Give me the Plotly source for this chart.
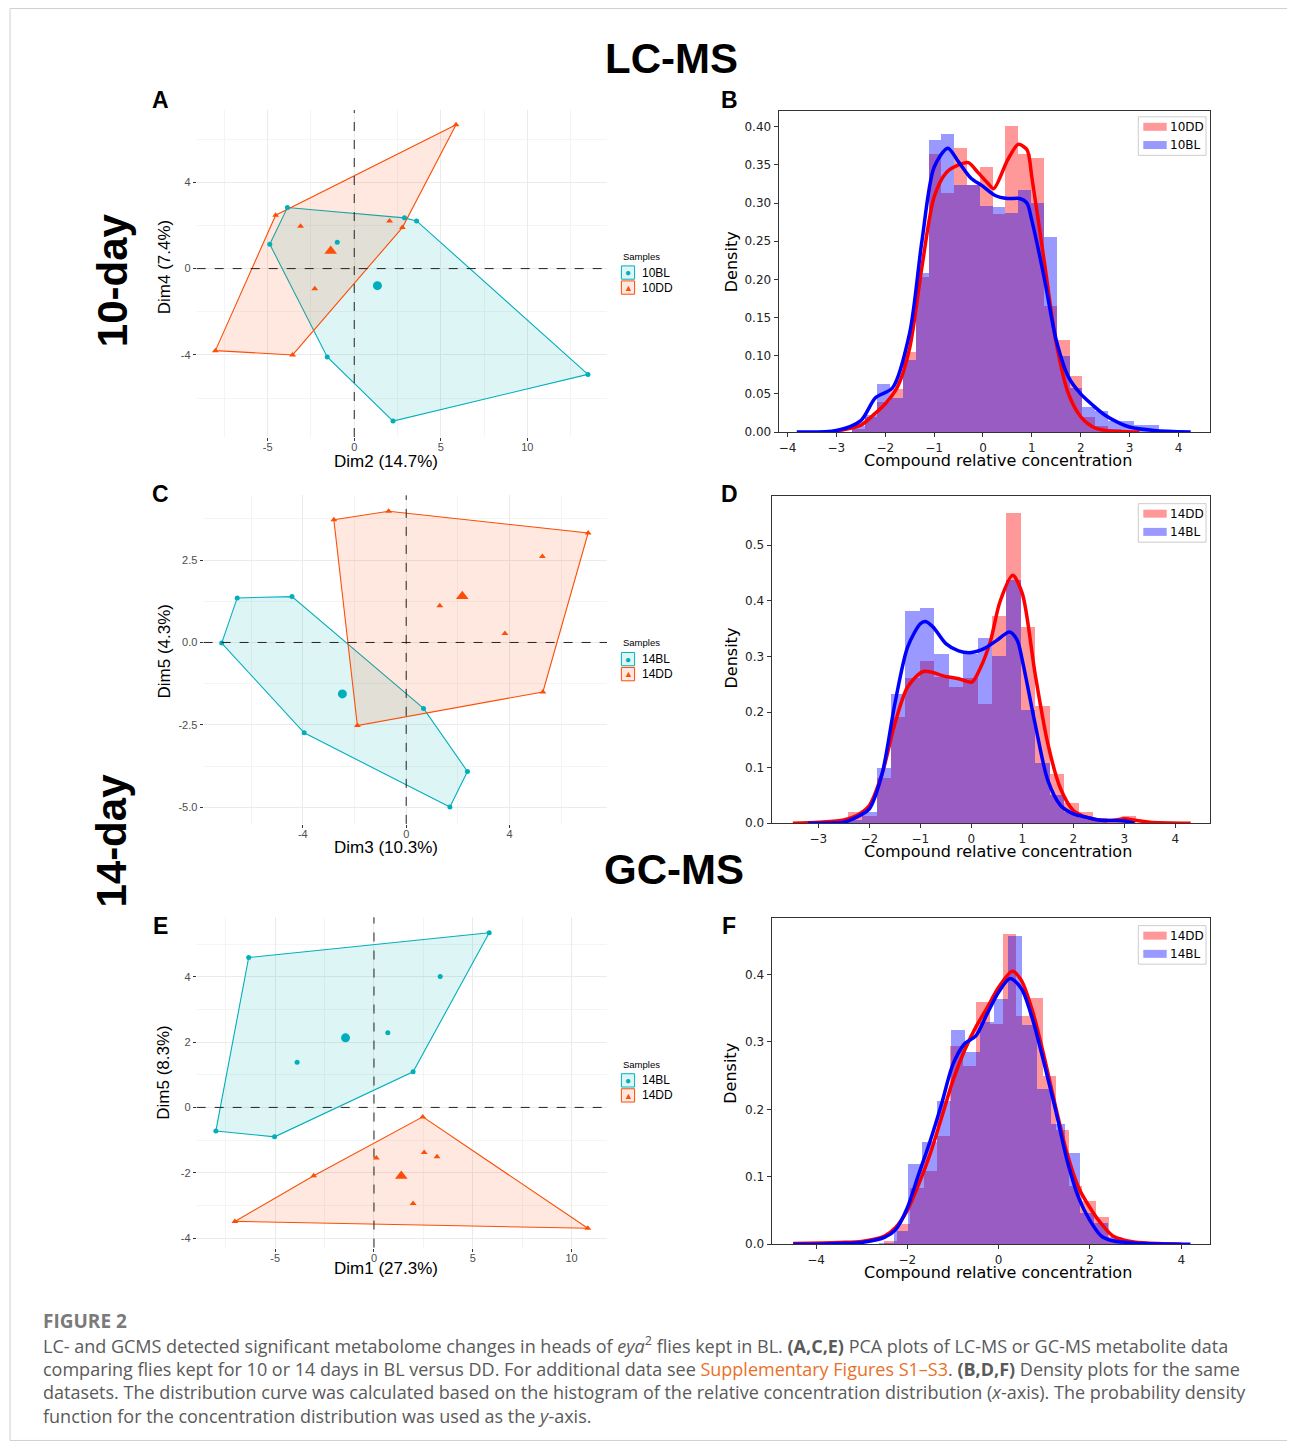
import plotly.graph_objects as go

# the page adds an 8px body margin; the capture compresses the page height slightly,
# so reference pixel rows are mapped through S
OX, OY = 8, 8
FW, FH = 1287, 1440
S = 0.9945
CYAN = "#00AFBB"
ORANGE = "#FC4E07"
SANS = "Liberation Sans, Arial, sans-serif"
DEJAVU = "DejaVu Sans, sans-serif"
CAP = "Open Sans, sans-serif"

# ---------------- PCA data (individual scores) ----------------
# Panel A : 10-day LC-MS, Dim2 vs Dim4
A_BL_x = [-3.86, 2.90, 3.60, 13.50, 2.24, -1.56, -4.88, -0.98]
A_BL_y = [2.83, 2.35, 2.21, -4.90, -7.06, -4.09, 1.13, 1.22]
A_DD_x = [5.88, 2.78, -3.56, -8.02, -4.54, -3.10, 2.04, -2.28]
A_DD_y = [6.66, 1.90, -4.00, -3.80, 2.47, 1.96, 2.21, -0.93]
A_BL_mean = [1.34, -0.79]
A_DD_mean = [-1.36, 0.82]

# Panel C : 14-day LC-MS, Dim3 vs Dim5
C_BL_x = [-6.54, -4.42, 0.67, 2.37, 1.69, -3.95, -7.14]
C_BL_y = [1.35, 1.39, -2.00, -3.91, -4.99, -2.74, -0.02]
C_DD_x = [-2.80, -0.68, 7.04, 5.29, -1.89, 5.27, 1.30, 3.82]
C_DD_y = [3.72, 3.98, 3.32, -1.50, -2.52, 2.61, 1.11, 0.27]
C_BL_mean = [-2.47, -1.56]
C_DD_mean = [2.17, 1.40]

# Panel E : 14-day GC-MS, Dim1 vs Dim5
E_BL_x = [-6.34, 5.83, 1.98, -5.03, -8.00, 3.35, 0.70, -3.89]
E_BL_y = [4.59, 5.35, 1.09, -0.90, -0.72, 4.01, 2.29, 1.38]
E_DD_x = [2.47, 10.82, -7.04, -3.05, 0.12, 2.54, 3.19, 1.98]
E_DD_y = [-0.29, -3.70, -3.49, -2.09, -1.55, -1.38, -1.51, -2.94]
E_BL_mean = [-1.44, 2.13]
E_DD_mean = [1.38, -2.10]

# ---------------- Density data ----------------
# Panel B (10DD red, 10BL blue)
B_bin_centers = [-2.559, -2.297, -2.035, -1.773, -1.511, -1.249, -0.987, -0.725, -0.463, -0.201,
                 0.061, 0.323, 0.585, 0.847, 1.109, 1.371, 1.633, 1.895, 2.157, 2.419, 2.681, 2.943,
                 3.205, 3.467]
B_bin_width = 0.262
B_hist_DD = [0.004, 0.020, 0.040, 0.057, 0.105, 0.203, 0.365, 0.313, 0.372, 0.324, 0.348, 0.286,
             0.401, 0.365, 0.359, 0.165, 0.121, 0.074, 0.020, 0.008, 0.004, 0.0, 0.0, 0.0]
B_hist_BL = [0.008, 0.022, 0.063, 0.045, 0.095, 0.209, 0.383, 0.391, 0.324, 0.324, 0.296, 0.295,
             0.287, 0.317, 0.300, 0.256, 0.100, 0.058, 0.033, 0.028, 0.015, 0.015, 0.009, 0.009]
B_kde_DD_x = [-3.1, -2.5, -2.25, -2.0, -1.75, -1.5, -1.25, -1.0, -0.75, -0.5, -0.3, -0.1, 0.1, 0.22,
              0.5, 0.72, 0.9, 1.0, 1.25, 1.5, 1.75, 2.0, 2.25, 2.5, 3.2]
B_kde_DD_y = [0.0, 0.009, 0.022, 0.037, 0.059, 0.110, 0.216, 0.308, 0.340, 0.350, 0.353, 0.340, 0.326,
              0.319, 0.356, 0.377, 0.370, 0.334, 0.225, 0.116, 0.050, 0.020, 0.0065, 0.002, 0.0]
B_kde_BL_x = [-3.81, -3.0, -2.5, -2.2, -1.85, -1.5, -1.25, -1.0, -0.72, -0.5, -0.25, 0.0, 0.25, 0.5,
              0.75, 0.9, 1.0, 1.25, 1.5, 1.75, 2.0, 2.25, 2.5, 2.75, 3.0, 3.5, 4.25]
B_kde_BL_y = [0.0, 0.002, 0.015, 0.045, 0.058, 0.130, 0.250, 0.347, 0.372, 0.354, 0.333, 0.322, 0.310,
              0.306, 0.306, 0.300, 0.277, 0.203, 0.120, 0.072, 0.050, 0.035, 0.022, 0.013, 0.0065, 0.002, 0.0]

# Panel D (14DD red, 14BL blue) LC-MS
D_bin_centers = [-2.573, -2.290, -2.007, -1.724, -1.441, -1.158, -0.875, -0.592, -0.309, -0.026, 0.257,
                 0.540, 0.823, 1.106, 1.389, 1.672, 1.955, 2.238, 2.521, 2.804, 3.087, 3.370]
D_bin_width = 0.283
D_hist_DD = [0.004, 0.020, 0.012, 0.081, 0.190, 0.261, 0.292, 0.263, 0.245, 0.261, 0.213,
             0.373, 0.558, 0.352, 0.210, 0.088, 0.035, 0.020, 0.008, 0.004, 0.012, 0.0]
D_hist_BL = [0.0, 0.005, 0.020, 0.099, 0.231, 0.381, 0.386, 0.303, 0.260, 0.303, 0.333,
             0.300, 0.437, 0.203, 0.107, 0.050, 0.020, 0.008, 0.003, 0.0, 0.0, 0.0]
D_kde_DD_x = [-3.5, -3.0, -2.5, -2.25, -2.0, -1.75, -1.5, -1.25, -0.94, -0.5, -0.25, 0.01, 0.17, 0.37,
              0.56, 0.81, 1.0, 1.25, 1.5, 1.75, 2.0, 2.25, 2.5, 2.75, 3.0, 3.25, 3.5, 4.3]
D_kde_DD_y = [0.0, 0.002, 0.006, 0.014, 0.032, 0.089, 0.179, 0.245, 0.273, 0.264, 0.260, 0.254, 0.278,
              0.326, 0.398, 0.446, 0.413, 0.269, 0.143, 0.062, 0.023, 0.011, 0.006, 0.005, 0.008, 0.005,
              0.002, 0.0]
D_kde_BL_x = [-3.2, -2.5, -2.25, -2.0, -1.75, -1.5, -1.25, -1.0, -0.9, -0.75, -0.5, -0.25, 0.0, 0.25,
              0.5, 0.75, 0.9, 1.0, 1.25, 1.5, 1.75, 2.0, 2.25, 2.5, 3.0, 3.2]
D_kde_BL_y = [0.0, 0.002, 0.011, 0.026, 0.089, 0.215, 0.317, 0.359, 0.363, 0.353, 0.323, 0.310, 0.307,
              0.314, 0.329, 0.344, 0.329, 0.293, 0.179, 0.077, 0.032, 0.017, 0.011, 0.006, 0.004, 0.0]

# Panel F (14DD red, 14BL blue) GC-MS
F_bin_centers_DD = [-2.377, -2.087, -1.797, -1.507, -1.217, -0.927, -0.637, -0.347, -0.057, 0.233,
                    0.523, 0.813, 1.103, 1.393, 1.683, 1.973, 2.263, 2.553]
F_bin_width_DD = 0.29
F_hist_DD = [0.005, 0.030, 0.084, 0.109, 0.160, 0.294, 0.265, 0.359, 0.327, 0.460, 0.339, 0.365,
             0.249, 0.170, 0.087, 0.064, 0.040, 0.005]
F_bin_centers_BL = [-2.460, -2.147, -1.834, -1.521, -1.208, -0.895, -0.582, -0.269, 0.044, 0.357,
                    0.670, 0.983, 1.296, 1.609, 1.922, 2.235, 2.548]
F_bin_width_BL = 0.313
F_hist_BL = [0.002, 0.020, 0.119, 0.151, 0.212, 0.318, 0.285, 0.330, 0.364, 0.457, 0.325, 0.230,
             0.178, 0.135, 0.047, 0.032, 0.010]
F_kde_DD_x = [-4.5, -3.5, -3.0, -2.5, -2.25, -2.0, -1.75, -1.5, -1.25, -1.0, -0.75, -0.5, -0.25, 0.0,
              0.3, 0.5, 0.75, 1.0, 1.25, 1.5, 1.75, 2.0, 2.25, 2.5, 2.75, 3.0, 3.5, 4.0]
F_kde_DD_y = [0.001, 0.0025, 0.004, 0.012, 0.025, 0.050, 0.089, 0.134, 0.188, 0.243, 0.287, 0.322,
              0.351, 0.381, 0.405, 0.391, 0.344, 0.277, 0.203, 0.134, 0.084, 0.054, 0.030, 0.012,
              0.006, 0.003, 0.001, 0.0]
F_kde_BL_x = [-4.5, -4.0, -3.5, -3.0, -2.5, -2.25, -2.0, -1.75, -1.5, -1.25, -1.0, -0.75, -0.5, -0.25,
              0.0, 0.25, 0.5, 0.75, 1.0, 1.25, 1.5, 1.75, 2.0, 2.25, 2.5, 3.0, 4.2]
F_kde_BL_y = [0.0, 0.0, 0.001, 0.0025, 0.010, 0.022, 0.054, 0.104, 0.153, 0.208, 0.267, 0.297, 0.309,
              0.342, 0.374, 0.394, 0.379, 0.332, 0.267, 0.198, 0.124, 0.069, 0.035, 0.012, 0.005,
              0.0015, 0.0]


# ---------------- helpers ----------------
def px(x):
    return (x - OX) / FW


def py(y):
    return 1 - (y / S - OY) / FH


def rgba(hexcol, a):
    h = hexcol.lstrip("#")
    return "rgba(%d,%d,%d,%s)" % (int(h[0:2], 16), int(h[2:4], 16), int(h[4:6], 16), a)


def hull(xs, ys):
    pts = sorted(set(zip(xs, ys)))

    def cross(o, a, b):
        return (a[0] - o[0]) * (b[1] - o[1]) - (a[1] - o[1]) * (b[0] - o[0])

    lower, upper = [], []
    for p in pts:
        while len(lower) >= 2 and cross(lower[-2], lower[-1], p) <= 0:
            lower.pop()
        lower.append(p)
    for p in reversed(pts):
        while len(upper) >= 2 and cross(upper[-2], upper[-1], p) <= 0:
            upper.pop()
        upper.append(p)
    h = lower[:-1] + upper[:-1]
    h.append(h[0])
    return [p[0] for p in h], [p[1] for p in h]


fig = go.Figure()


def axnames(n):
    return ("x" if n == 1 else "x%d" % n), ("y" if n == 1 else "y%d" % n)


def add_pca(n, blx, bly, ddx, ddy, blm, ddm):
    xa, ya = axnames(n)
    for xs, ys, col in [(blx, bly, CYAN), (ddx, ddy, ORANGE)]:
        hx, hy = hull(xs, ys)
        fig.add_trace(go.Scatter(x=hx, y=hy, mode="lines", fill="toself",
                                 fillcolor=rgba(col, 0.13), line=dict(color=col, width=1.1),
                                 xaxis=xa, yaxis=ya, hoverinfo="skip", showlegend=False))
    for xs, ys, col, sym, m in [(blx, bly, CYAN, "circle", blm), (ddx, ddy, ORANGE, "triangle-up", ddm)]:
        fig.add_trace(go.Scatter(x=xs, y=ys, mode="markers",
                                 marker=dict(symbol=sym, size=5 if sym == "circle" else 6, color=col,
                                             line=dict(width=0)),
                                 xaxis=xa, yaxis=ya, showlegend=False))
        fig.add_trace(go.Scatter(x=[m[0]], y=[m[1]], mode="markers",
                                 marker=dict(symbol=sym, size=9 if sym == "circle" else 11, color=col,
                                             line=dict(width=0)),
                                 xaxis=xa, yaxis=ya, showlegend=False))


def add_density(n, cdd, wdd, hdd, cbl, wbl, hbl, kddx, kddy, kblx, kbly):
    xa, ya = axnames(n)
    fig.add_trace(go.Bar(x=cdd, y=hdd, width=wdd, marker=dict(color="rgba(255,0,0,0.4)", line=dict(width=0)),
                         xaxis=xa, yaxis=ya, showlegend=False))
    fig.add_trace(go.Bar(x=cbl, y=hbl, width=wbl, marker=dict(color="rgba(0,0,255,0.4)", line=dict(width=0)),
                         xaxis=xa, yaxis=ya, showlegend=False))
    fig.add_trace(go.Scatter(x=kddx, y=kddy, mode="lines", line=dict(color="#FF0000", width=3.5, shape="spline",
                                                                   smoothing=0.8),
                             xaxis=xa, yaxis=ya, showlegend=False))
    fig.add_trace(go.Scatter(x=kblx, y=kbly, mode="lines", line=dict(color="#0000FF", width=3.5, shape="spline",
                                                                   smoothing=0.8),
                             xaxis=xa, yaxis=ya, showlegend=False))


add_pca(1, A_BL_x, A_BL_y, A_DD_x, A_DD_y, A_BL_mean, A_DD_mean)
add_density(2, B_bin_centers, B_bin_width, B_hist_DD, B_bin_centers, B_bin_width, B_hist_BL,
            B_kde_DD_x, B_kde_DD_y, B_kde_BL_x, B_kde_BL_y)
add_pca(3, C_BL_x, C_BL_y, C_DD_x, C_DD_y, C_BL_mean, C_DD_mean)
add_density(4, D_bin_centers, D_bin_width, D_hist_DD, D_bin_centers, D_bin_width, D_hist_BL,
            D_kde_DD_x, D_kde_DD_y, D_kde_BL_x, D_kde_BL_y)
add_pca(5, E_BL_x, E_BL_y, E_DD_x, E_DD_y, E_BL_mean, E_DD_mean)
add_density(6, F_bin_centers_DD, F_bin_width_DD, F_hist_DD, F_bin_centers_BL, F_bin_width_BL, F_hist_BL,
            F_kde_DD_x, F_kde_DD_y, F_kde_BL_x, F_kde_BL_y)


def pca_axis(dom, rng, major, labels, minor, anchor, standoff=0):
    return dict(domain=dom, range=rng, anchor=anchor, tickmode="array", tickvals=major, ticktext=labels,
                showgrid=True, gridcolor="#EBEBEB", gridwidth=1.1, zeroline=False, showline=False,
                ticks="outside", ticklen=3, tickwidth=1, tickcolor="#333333", ticklabelstandoff=standoff,
                tickfont=dict(family=SANS, size=11, color="#4D4D4D"),
                minor=dict(tickvals=minor, showgrid=True, gridcolor="#F4F4F4", gridwidth=0.6, ticks=""),
                fixedrange=True)


def dens_axis(dom, rng, vals, labels, anchor):
    return dict(domain=dom, range=rng, anchor=anchor, tickmode="array", tickvals=vals, ticktext=labels,
                showgrid=False, zeroline=False, showline=True, mirror=True, linecolor="#333333",
                linewidth=1.2, ticks="outside", ticklen=4, tickwidth=1, tickcolor="#333333",
                tickfont=dict(family=DEJAVU, size=12, color="#222222"), fixedrange=True)


M = "\u2212"
layout = dict(
    width=FW, height=FH, margin=dict(l=0, r=0, t=0, b=0),
    paper_bgcolor="white", plot_bgcolor="white", barmode="overlay", bargap=0,
    # A
    xaxis=pca_axis([px(196.7), px(607)], [-9.1, 14.6], [-5, 0, 5, 10], ["-5", "0", "5", "10"],
                   [-7.5, -2.5, 2.5, 7.5, 12.5], "y", -3),
    yaxis=pca_axis([py(436.7), py(110)], [-7.8, 7.34], [-4, 0, 4], ["-4", "0", "4"],
                   [-6, -2, 2, 6], "x"),
    # B
    xaxis2=dens_axis([px(778.7), px(1210)], [-4.18, 4.645], [-4, -3, -2, -1, 0, 1, 2, 3, 4],
                     [M + "4", M + "3", M + "2", M + "1", "0", "1", "2", "3", "4"], "y2"),
    yaxis2=dens_axis([py(431.7), py(110.7)], [0, 0.421],
                     [0, 0.05, 0.10, 0.15, 0.20, 0.25, 0.30, 0.35, 0.40],
                     ["0.00", "0.05", "0.10", "0.15", "0.20", "0.25", "0.30", "0.35", "0.40"], "x2"),
    # C
    xaxis3=pca_axis([px(203.6), px(607)], [-7.84, 7.77], [-4, 0, 4], ["-4", "0", "4"],
                    [-6, -2, 2, 6], "y3", -3),
    yaxis3=pca_axis([py(823.3), py(495)], [-5.5, 4.46], [-5, -2.5, 0, 2.5], ["-5.0", "-2.5", "0.0", "2.5"],
                    [-3.75, -1.25, 1.25, 3.75], "x3"),
    # D
    xaxis4=dens_axis([px(771.7), px(1210)], [-3.915, 4.68], [-3, -2, -1, 0, 1, 2, 3, 4],
                     [M + "3", M + "2", M + "1", "0", "1", "2", "3", "4"], "y4"),
    yaxis4=dens_axis([py(822.7), py(496)], [0, 0.588], [0, 0.1, 0.2, 0.3, 0.4, 0.5],
                     ["0.0", "0.1", "0.2", "0.3", "0.4", "0.5"], "x4"),
    # E
    xaxis5=pca_axis([px(196.7), px(607)], [-8.97, 11.79], [-5, 0, 5, 10], ["-5", "0", "5", "10"],
                    [-7.5, -2.5, 2.5, 7.5], "y5", -3),
    yaxis5=pca_axis([py(1246.7), py(916.7)], [-4.29, 5.82], [-4, -2, 0, 2, 4], ["-4", "-2", "0", "2", "4"],
                    [-3, -1, 1, 3, 5], "x5"),
    # F
    xaxis6=dens_axis([px(771.7), px(1210)], [-4.97, 4.628], [-4, -2, 0, 2, 4],
                     [M + "4", M + "2", "0", "2", "4"], "y6"),
    yaxis6=dens_axis([py(1243.3), py(917.3)], [0, 0.484], [0, 0.1, 0.2, 0.3, 0.4],
                     ["0.0", "0.1", "0.2", "0.3", "0.4"], "x6"),
)
fig.update_layout(**layout)

shapes = []
# outer frame of the figure card
shapes.append(dict(type="rect", xref="paper", yref="paper", x0=px(10), x1=px(1291), y0=py(1439.5), y1=py(8.5),
                   line=dict(color="#D0D0D0", width=1), fillcolor="rgba(0,0,0,0)", layer="below"))
# dashed zero lines in PCA panels
for n in (1, 3, 5):
    xa, ya = axnames(n)
    shapes.append(dict(type="line", xref=xa, yref=ya + " domain", x0=0, x1=0, y0=0, y1=1,
                       line=dict(color="#222222", width=1, dash="dash"), layer="above"))
    shapes.append(dict(type="line", xref=xa + " domain", yref=ya, x0=0, x1=1, y0=0, y1=0,
                       line=dict(color="#222222", width=1, dash="dash"), layer="above"))

annotations = []


def text(x, y, s, size, family=SANS, color="#000000", xanchor="center", angle=0, bold=False):
    annotations.append(dict(x=px(x), y=py(y), xref="paper", yref="paper", text=("<b>%s</b>" % s) if bold else s,
                            showarrow=False, xanchor=xanchor, yanchor="middle", textangle=angle,
                            font=dict(family=family, size=size, color=color)))


# big headings
text(671, 58, "LC-MS", 42, bold=True)
text(674, 869, "GC-MS", 42, bold=True)
text(112, 280, "10-day", 42, angle=-90, bold=True)
text(112, 840, "14-day", 42, angle=-90, bold=True)
# panel letters
for lx, ly, L in [(160, 100, "A"), (729, 100, "B"), (160, 494, "C"), (729, 494, "D"), (160, 925, "E"),
                  (729, 925, "F")]:
    text(lx, ly, L, 23, bold=True)

# PCA axis titles
for cx, cy, s in [(386, 461, "Dim2 (14.7%)"), (386, 847, "Dim3 (10.3%)"), (386, 1268, "Dim1 (27.3%)")]:
    text(cx, cy, s, 17)
for cx, cy, s in [(164, 267, "Dim4 (7.4%)"), (164, 651, "Dim5 (4.3%)"), (164, 1072, "Dim5 (8.3%)")]:
    text(cx, cy, s, 17, angle=-90)

# density axis titles
for cy in (460, 851, 1272):
    text(998, cy, "Compound relative concentration", 16, family=DEJAVU)
for cy in (262, 658, 1073):
    text(731, cy, "Density", 16, family=DEJAVU, angle=-90)

# PCA legends
for top, l1, l2 in [(256, "10BL", "10DD"), (642.3, "14BL", "14DD"), (1063.3, "14BL", "14DD")]:
    text(620.5, top, "Samples", 9.5, xanchor="left")
    for k, (lab, col, glyph) in enumerate([(l1, CYAN, "\u25CF"), (l2, ORANGE, "\u25B2")]):
        y0 = top + 9.7 + k * 15
        shapes.append(dict(type="rect", xref="paper", yref="paper", x0=px(621.4), x1=px(634.6),
                           y0=py(y0 + 13.3), y1=py(y0), line=dict(color=col, width=1),
                           fillcolor=rgba(col, 0.13)))
        text(628, y0 + 6.8, glyph, 10 if k == 0 else 9, color=col)
        text(640, y0 + 6.6, lab, 12, xanchor="left")

# density legends
for btop, l1, l2 in [(116.7, "10DD", "10BL"), (503.3, "14DD", "14BL"), (925, "14DD", "14BL")]:
    shapes.append(dict(type="rect", xref="paper", yref="paper", x0=px(1138.3), x1=px(1206),
                       y0=py(btop + 38.5), y1=py(btop), line=dict(color="#CCCCCC", width=1),
                       fillcolor="rgba(255,255,255,0.8)"))
    for k, (lab, col) in enumerate([(l1, "rgba(255,0,0,0.4)"), (l2, "rgba(0,0,255,0.4)")]):
        cy = btop + 10 + k * 18.2
        shapes.append(dict(type="rect", xref="paper", yref="paper", x0=px(1143.3), x1=px(1166.7),
                           y0=py(cy + 4), y1=py(cy - 4), line=dict(width=0), fillcolor=col))
        text(1167.5, cy, lab, 12, family=DEJAVU, xanchor="left")

# caption
GREY = "#5A5A5A"
text(41, 1320, "<b>FIGURE 2</b>", 19, family=CAP, color="#7A7A7A", xanchor="left")
cap_lines = [
    "LC- and GCMS detected significant metabolome changes in heads of <i>eya</i><sup>2</sup> flies kept in BL. "
    "<b>(A,C,E)</b> PCA plots of LC-MS or GC-MS metabolite data",
    "comparing flies kept for 10 or 14 days in BL versus DD. For additional data see "
    "<span style='color:#E8712A'>Supplementary Figures S1\u2013S3</span>. <b>(B,D,F)</b> Density plots for the same",
    "datasets. The distribution curve was calculated based on the histogram of the relative concentration "
    "distribution (<i>x</i>-axis). The probability density",
    "function for the concentration distribution was used as the <i>y</i>-axis.",
]
for i, line in enumerate(cap_lines):
    text(41, 1344 + i * 23.7, line, 18, family=CAP, color=GREY, xanchor="left")

fig.update_layout(shapes=shapes, annotations=annotations)
fig.write_html("out.html")
